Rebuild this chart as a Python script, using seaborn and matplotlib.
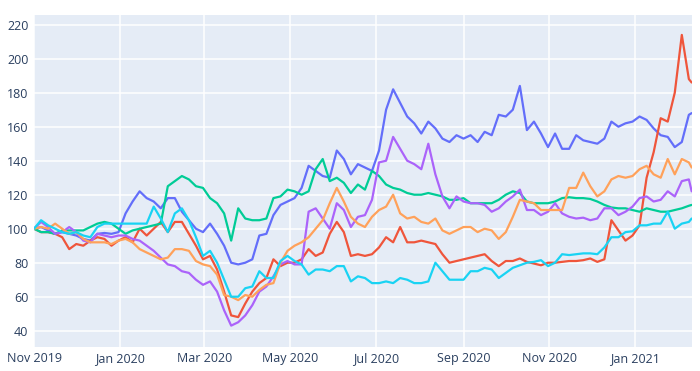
import pandas as pd
import seaborn as sns
import matplotlib.pyplot as plt
from matplotlib.dates import DateFormatter, MonthLocator

plt.switch_backend('agg')

# 5-day sampling from Nov 1 2019, plus the last trading point
dates = list(pd.date_range('2019-11-01', periods=94, freq='5D')) + [pd.Timestamp('2021-02-10')]

blue = [100, 101, 99, 97, 98, 97, 96, 94, 93, 97,
        97.5, 97, 98, 109, 116, 122, 118, 116, 112, 118,
        118, 110, 105, 100, 98, 103, 97, 90, 80, 79,
        80, 82, 96, 97, 108, 114, 116, 118, 124, 137,
        134, 131, 130, 146, 141, 132, 138, 136, 134, 146,
        170, 182, 174, 166, 162, 156, 163, 159, 153, 151,
        155, 153, 155, 151, 157, 155, 167, 166, 170, 184,
        158, 163, 156, 148, 156, 147, 147, 155, 152, 151,
        150, 153, 163, 160, 162, 163, 166, 164, 159, 155,
        154, 148, 151, 167, 168]

red = [100, 98, 98, 97, 95, 88, 91, 90, 93, 95,
       94, 90, 93, 95, 92, 100, 96, 100, 104, 98,
       104, 104, 97, 90, 82, 84, 76, 63, 49, 48,
       56, 63, 68, 71, 82, 78, 80, 80, 82, 88,
       84, 86, 97, 104, 98, 84, 85, 84, 85, 89,
       95, 92, 101, 92, 92, 93, 92, 91, 85, 80,
       81, 82, 83, 84, 85, 81, 78, 81, 81, 82.5,
       80.5, 79.5, 78.5, 80, 80, 80.5, 81, 81, 81.5, 82.5,
       80.5, 82, 105, 99, 93, 96, 102, 130, 145, 165,
       163, 180, 214, 188, 186]

green = [100, 98, 98, 97, 99, 99, 99, 99, 101, 103,
         104, 103, 100, 97, 99, 100, 101, 102, 103, 125,
         128, 131, 129, 125, 124, 118, 115, 109, 93, 112,
         106, 105, 105, 106, 118, 119, 123, 122, 120, 122,
         135, 141, 128, 130, 127, 121, 126, 123, 134, 131,
         126, 124, 123, 121, 120, 120, 121, 120, 119, 117,
         117, 118, 115, 115, 115, 115, 117, 120, 122, 121,
         116, 115, 115, 115, 116, 118, 118.5, 118, 118, 117.5,
         116, 114, 112.5, 112, 112, 111, 110, 112, 111, 110,
         110, 111, 112, 113.5, 114]

purple = [100, 104, 101, 97, 98, 101, 98, 93, 92, 97,
          96, 95, 96, 96, 94, 93, 90, 87, 83, 79,
          78, 75, 74, 70, 67, 69, 63, 52, 43, 45,
          49, 55, 63, 66, 72, 79, 81, 79, 79, 110,
          112, 106, 100, 115, 111, 101, 107, 108, 117, 139,
          140, 154, 147, 140, 138, 135, 150, 132, 119, 112,
          119, 116, 115, 115, 114, 110, 112, 116, 119, 123,
          111, 111, 108, 110, 115, 109, 107, 106, 106.5, 105,
          106, 112, 112, 108, 110, 113, 118, 119, 116, 117,
          122, 119, 128, 129, 122]

orange = [100, 101, 100, 103, 100, 97, 98, 94, 92, 92,
          92, 91, 93, 94, 92, 88, 86, 84, 82, 83,
          88, 88, 87, 81, 79, 78, 73, 61, 60, 58,
          61, 60, 64, 67, 68, 80, 87, 90, 92, 95,
          100, 105, 115, 124, 116, 107, 103, 101, 107, 111,
          113, 120, 109, 106, 107, 104, 103, 106, 99, 97,
          99, 101, 101, 98, 100, 99, 94, 98, 107, 117,
          116, 115, 111, 111, 111, 111, 124, 124, 133, 125,
          119, 122, 129, 131, 130, 131, 135, 137, 132, 130,
          141, 132, 141, 139, 136]

cyan = [100, 105, 102, 100, 98, 97, 98, 96, 95, 101,
        103, 103, 103, 103, 103, 103, 103, 113, 106, 98,
        109, 112, 105, 95, 84, 87, 80, 70, 60, 60,
        65, 66, 75, 71, 71, 81, 84, 81, 79, 73,
        76, 76, 75, 78, 78, 69, 72, 71, 68, 68,
        69, 68, 71, 70, 68, 68, 69, 80, 75, 70,
        70, 70, 75, 75, 77, 76, 71, 74, 77, 78.5,
        80, 80.5, 81.5, 78, 80, 85, 84.5, 85, 85.5, 85.5,
        85, 89, 95, 95, 98, 98.5, 102, 102, 103, 103,
        110, 100, 103, 104, 106]

series = {'s1': blue, 's2': red, 's3': green, 's4': purple, 's5': orange, 's6': cyan}
colors = ['#636EFA', '#EF553B', '#00CC96', '#AB63FA', '#FFA15A', '#19D3F3']

frames = [pd.DataFrame({'date': dates, 'value': v, 'name': k}) for k, v in series.items()]
df = pd.concat(frames, ignore_index=True)

sns.set_style('darkgrid', {'axes.facecolor': '#E5ECF6', 'grid.color': 'white'})
plt.rcParams['font.family'] = ['Open Sans', 'DejaVu Sans']

fig = plt.figure(figsize=(7, 3.71), dpi=100)
ax = fig.add_axes([0.0486, 0.0655, 0.9395, 0.894])

sns.lineplot(data=df, x='date', y='value', hue='name', palette=colors,
             linewidth=1.6, legend=False, ax=ax)

ax.set_xlim(dates[0], dates[-1])
ax.set_ylim(30.6, 225.7)
ax.set_yticks(range(40, 221, 20))
ax.xaxis.set_major_locator(MonthLocator(bymonth=[1, 3, 5, 7, 9, 11]))
ax.xaxis.set_major_formatter(DateFormatter('%b %Y'))
ax.grid(True, color='white', linewidth=1.1)
ax.set_xlabel('')
ax.set_ylabel('')
for s in ax.spines.values():
    s.set_visible(False)
ax.tick_params(axis='both', length=0, labelsize=9, colors='#2a3f5f')
ax.tick_params(axis='y', pad=4)
ax.tick_params(axis='x', pad=4)

plt.savefig('out.png', dpi=100)
